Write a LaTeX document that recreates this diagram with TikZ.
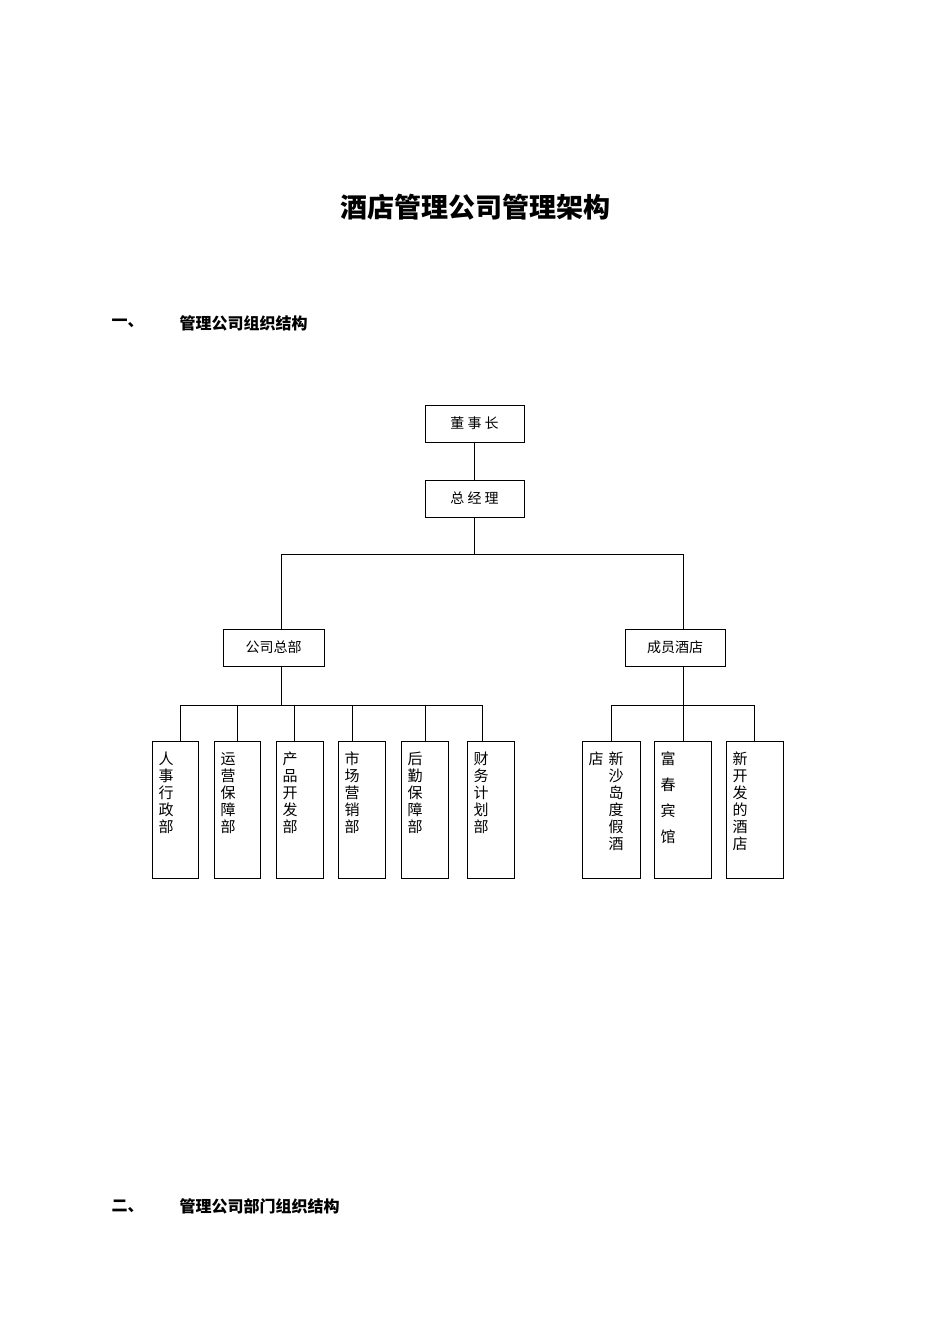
\documentclass[tikz,border=0pt]{standalone}
\usepackage{fontspec}
\newfontfamily\cjk{Noto Sans CJK SC}
\begin{document}
\begin{tikzpicture}[x=1pt,y=-1pt,font=\cjk\fontsize{14}{17}\selectfont,
 bx/.style={draw,line width=0.8pt,inner sep=0pt},
 vt/.style={anchor=north,inner sep=0pt,align=center,font=\cjk\fontsize{15}{17}\selectfont},
 ln/.style={line width=0.8pt}]
\useasboundingbox (0,0) rectangle (950,1344);
\node[font=\cjk\bfseries\fontsize{27}{30}\selectfont] (title) at (475,207) {酒店管理公司管理架构};
\node[anchor=west,font=\cjk\bfseries\fontsize{16}{18}\selectfont] (h1n) at (108,323) {一、};
\node[anchor=west,font=\cjk\bfseries\fontsize{16}{18}\selectfont] (h1) at (176,323) {管理公司组织结构};
\node[anchor=west,font=\cjk\bfseries\fontsize{16}{18}\selectfont] (h2n) at (108,1206) {二、};
\node[anchor=west,font=\cjk\bfseries\fontsize{16}{18}\selectfont] (h2) at (176,1206) {管理公司部门组织结构};
\node[bx,minimum width=99,minimum height=37] (dsz) at (474.5,423.5) {董\ 事\ 长};
\node[bx,minimum width=99,minimum height=37] (zjl) at (474.5,498.5) {总\ 经\ 理};
\node[bx,minimum width=101,minimum height=37] (gs) at (273.5,647.5) {公司总部};
\node[bx,minimum width=100,minimum height=37] (cy) at (675,647.5) {成员酒店};
\draw[ln] (dsz.south) -- (zjl.north);
\coordinate (b1) at (474.5,554);
\draw[ln] (zjl.south) -- (b1);
\draw[ln] (281,554) -- (683,554);
\draw[ln] (281,554) -- (281,629);
\draw[ln] (683,554) -- (683,629);
% left boxes
\foreach \n/\l/\r/\d/\t in {a/152/198/180/人\\事\\行\\政\\部, b/214/260/237/运\\营\\保\\障\\部, c/276/323/294/产\\品\\开\\发\\部, d/338/385/352/市\\场\\营\\销\\部, e/401/448/425/后\\勤\\保\\障\\部, f/467/514/482/财\\务\\计\\划\\部}{
 \draw[bx] (\l,741) rectangle (\r,878);
 \node[vt] (t\n) at ({\l+14},752) {\t};
 \draw[ln] (\d,705) -- (\d,741);
}
\draw[ln] (281,666) -- (281,705);
\draw[ln] (180,705) -- (482,705);
% right boxes
\draw[bx] (582,741) rectangle (640,878);
\node[vt] (tg) at (616,752) {新\\沙\\岛\\度\\假\\酒};
\node[vt] (tg2) at (596,752) {店};
\draw[bx] (654,741) rectangle (711,878);
\node[vt,font=\cjk\fontsize{15}{26}\selectfont] (th) at (668,752) {富\\春\\宾\\馆};
\draw[bx] (726,741) rectangle (783,878);
\node[vt] (ti) at (740,752) {新\\开\\发\\的\\酒\\店};
\draw[ln] (683,666) -- (683,741);
\draw[ln] (611,705) -- (754,705);
\draw[ln] (611,705) -- (611,741);
\draw[ln] (754,705) -- (754,741);
\end{tikzpicture}
\end{document}
